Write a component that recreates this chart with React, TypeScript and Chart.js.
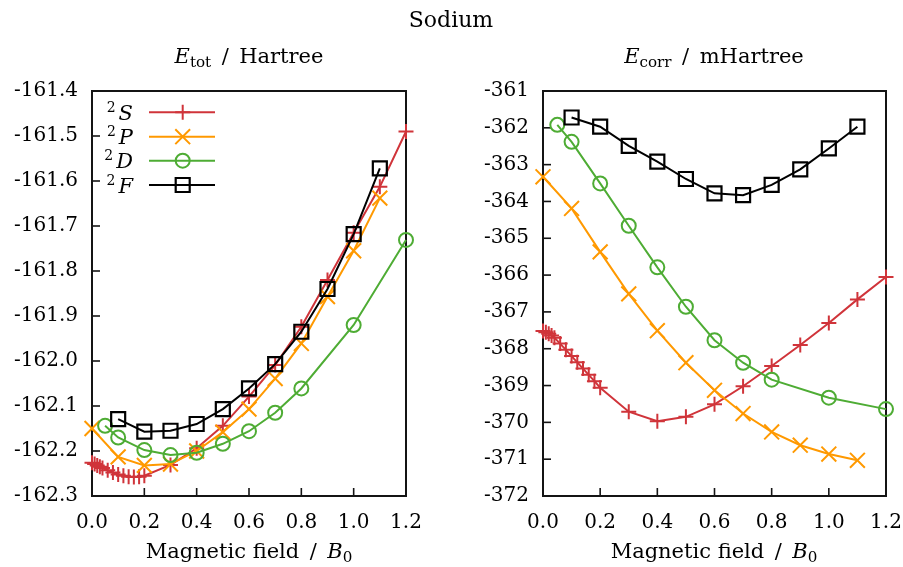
import React, { useEffect, useRef } from 'react';
import { Chart, registerables } from 'chart.js';

Chart.register(...registerables);

// ---------------- data ----------------
const xTicks = [0, 0.2, 0.4, 0.6, 0.8, 1.0, 1.2];

const xS = [0, 0.01, 0.02, 0.03, 0.04, 0.06, 0.08, 0.10, 0.12, 0.14, 0.16, 0.18, 0.20, 0.3, 0.4, 0.5, 0.6, 0.7, 0.8, 0.9, 1.0, 1.1, 1.2];
const xP = [0, 0.1, 0.2, 0.3, 0.4, 0.5, 0.6, 0.7, 0.8, 0.9, 1.0, 1.1];
const xD = [0.05, 0.1, 0.2, 0.3, 0.4, 0.5, 0.6, 0.7, 0.8, 1.0, 1.2];
const xF = [0.1, 0.2, 0.3, 0.4, 0.5, 0.6, 0.7, 0.8, 0.9, 1.0, 1.1];

// total energy / Hartree
const totS = [-162.226, -162.229, -162.232, -162.235, -162.238, -162.243, -162.248, -162.252, -162.255, -162.257, -162.258, -162.257, -162.255, -162.231, -162.194, -162.144, -162.079, -162.009, -161.924, -161.820, -161.715, -161.613, -161.490];
const totP = [-162.150, -162.213, -162.232, -162.229, -162.200, -162.158, -162.107, -162.039, -161.961, -161.857, -161.755, -161.638];
const totD = [-162.144, -162.170, -162.198, -162.209, -162.204, -162.184, -162.156, -162.115, -162.061, -161.920, -161.731];
const totF = [-162.129, -162.157, -162.155, -162.140, -162.107, -162.061, -162.007, -161.935, -161.840, -161.718, -161.572];

// correlation energy / mHartree
const corrS = [-367.52, -367.55, -367.59, -367.64, -367.70, -367.86, -368.03, -368.20, -368.37, -368.54, -368.71, -368.88, -369.06, -369.71, -369.97, -369.85, -369.51, -369.02, -368.47, -367.90, -367.30, -366.66, -366.05];
const corrP = [-363.33, -364.19, -365.37, -366.51, -367.51, -368.38, -369.13, -369.76, -370.26, -370.62, -370.86, -371.03];
const corrD = [-361.92, -362.38, -363.51, -364.66, -365.79, -366.86, -367.77, -368.38, -368.84, -369.33, -369.64];
const corrF = [-361.72, -361.97, -362.49, -362.92, -363.39, -363.78, -363.83, -363.55, -363.13, -362.56, -361.97];

const legendLetters = ['S', 'P', 'D', 'F'];

// ---------------- styles ----------------
const RED = 'rgb(208,52,58)';
const ORANGE = 'rgb(255,153,0)';
const GREEN = 'rgb(78,172,52)';
const BLACK = 'rgb(0,0,0)';
const FONT = '"DejaVu Serif", serif';

const seriesStyle = [
  { color: RED, pointStyle: 'cross', radius: 7.5, bw: 2 },
  { color: ORANGE, pointStyle: 'crossRot', radius: 10.5, bw: 2 },
  { color: GREEN, pointStyle: 'circle', radius: 7, bw: 2 },
  { color: BLACK, pointStyle: 'rect', radius: 9.9, bw: 2.2 },
];

function toPts(xs: number[], ys: number[]) {
  return xs.map((x, i) => ({ x, y: ys[i] }));
}

const framePlugin = {
  id: 'gpFrame',
  beforeDatasetsDraw(chart: any) {
    const { ctx, chartArea: a, scales } = chart;
    ctx.save();
    ctx.strokeStyle = '#141414';
    ctx.lineWidth = 1.6;
    scales.x.ticks.forEach((t: any) => {
      const px = scales.x.getPixelForValue(t.value);
      ctx.beginPath();
      ctx.moveTo(px, a.bottom);
      ctx.lineTo(px, a.bottom - 8);
      ctx.stroke();
    });
    scales.y.ticks.forEach((t: any) => {
      const py = scales.y.getPixelForValue(t.value);
      ctx.beginPath();
      ctx.moveTo(a.left, py);
      ctx.lineTo(a.left + 8, py);
      ctx.stroke();
    });
    ctx.lineWidth = 2;
    ctx.strokeRect(a.left, a.top, a.right - a.left, a.bottom - a.top);
    ctx.restore();
  },
};

function drawMarker(ctx: CanvasRenderingContext2D, style: string, x: number, y: number) {
  ctx.beginPath();
  if (style === 'cross') {
    ctx.moveTo(x - 7.5, y); ctx.lineTo(x + 7.5, y);
    ctx.moveTo(x, y - 7.5); ctx.lineTo(x, y + 7.5);
  } else if (style === 'crossRot') {
    const d = 7.4;
    ctx.moveTo(x - d, y - d); ctx.lineTo(x + d, y + d);
    ctx.moveTo(x - d, y + d); ctx.lineTo(x + d, y - d);
  } else if (style === 'circle') {
    ctx.arc(x, y, 7, 0, Math.PI * 2);
  } else {
    ctx.rect(x - 7, y - 7, 14, 14);
  }
  ctx.stroke();
}

const legendPlugin = {
  id: 'gpLegend',
  afterDraw(chart: any) {
    if (!chart.options.plugins.gpLegend?.show) return;
    const ctx = chart.ctx as CanvasRenderingContext2D;
    ctx.save();
    const rows = [112.3, 136.7, 160.7, 185];
    legendLetters.forEach((L, i) => {
      const y = rows[i];
      const st = seriesStyle[i];
      ctx.fillStyle = '#000';
      ctx.textAlign = 'right';
      ctx.textBaseline = 'alphabetic';
      ctx.font = `italic 21px ${FONT}`;
      ctx.fillText(L, 133, y + 7.5);
      const w = ctx.measureText(L).width;
      ctx.font = `14px ${FONT}`;
      ctx.fillText('2', 133 - w - 3, y - 0.5);
      ctx.strokeStyle = st.color;
      ctx.lineWidth = st.bw;
      ctx.beginPath();
      ctx.moveTo(149, y);
      ctx.lineTo(215, y);
      ctx.stroke();
      drawMarker(ctx, st.pointStyle, 182.7, y);
    });
    ctx.restore();
  },
};

function makeConfig(ys: number[][], yMin: number, yMax: number, yStep: number, yDec: number, padRight: number, showLegend: boolean): any {
  const xsList = [xS, xP, xD, xF];
  const datasets = ys.map((arr, i) => {
    const st = seriesStyle[i];
    return {
      label: legendLetters[i],
      data: toPts(xsList[i], arr),
      borderColor: st.color,
      borderWidth: 2,
      backgroundColor: 'rgba(0,0,0,0)',
      pointStyle: st.pointStyle,
      pointRadius: st.radius,
      pointHoverRadius: st.radius,
      pointBorderWidth: st.bw,
      pointBorderColor: st.color,
      pointBackgroundColor: 'rgba(0,0,0,0)',
      tension: 0,
      fill: false,
      clip: false,
      order: 3 - i,
    };
  });
  return {
    type: 'line',
    data: { datasets },
    options: {
      animation: false,
      responsive: false,
      devicePixelRatio: 1,
      events: [],
      layout: { padding: { top: 91, right: padRight, left: 0, bottom: 0 } },
      plugins: {
        legend: { display: false },
        tooltip: { enabled: false },
        title: { display: false },
        gpLegend: { show: showLegend },
      },
      scales: {
        x: {
          type: 'linear',
          min: 0,
          max: 1.2,
          afterBuildTicks: (scale: any) => {
            scale.ticks = xTicks.map((v) => ({ value: v }));
          },
          afterFit: (scale: any) => {
            scale.height = 71;
            scale.paddingLeft = 0;
            scale.paddingRight = 0;
          },
          grid: { display: false, drawTicks: false },
          border: { display: false },
          ticks: {
            autoSkip: false,
            maxRotation: 0,
            padding: 15,
            color: '#000',
            font: { family: FONT, size: 20 },
            callback: (v: any) => Number(v).toFixed(1),
          },
        },
        y: {
          type: 'linear',
          min: yMin,
          max: yMax,
          afterFit: (scale: any) => {
            scale.width = 92;
            scale.paddingTop = 0;
            scale.paddingBottom = 0;
          },
          grid: { display: false, drawTicks: false },
          border: { display: false },
          ticks: {
            autoSkip: false,
            stepSize: yStep,
            padding: 14,
            color: '#000',
            font: { family: FONT, size: 20 },
            callback: (v: any) => Number(v).toFixed(yDec),
          },
        },
      },
    },
    plugins: [framePlugin, legendPlugin],
  };
}

function Panel({ left, width, cfg }: { left: number; width: number; cfg: () => any }) {
  const ref = useRef<HTMLCanvasElement | null>(null);
  useEffect(() => {
    if (!ref.current) return;
    const chart = new Chart(ref.current, cfg());
    return () => chart.destroy();
  }, []);
  return (
    <canvas
      ref={ref}
      width={width}
      height={567}
      style={{ position: 'absolute', left, top: 0, width, height: 567 }}
    />
  );
}

const txt = (left: number, top: number, width: number, size: number, children: React.ReactNode) => (
  <div
    style={{
      position: 'absolute',
      left,
      top,
      width,
      textAlign: 'center',
      fontFamily: FONT,
      fontSize: size,
      lineHeight: '1',
      color: '#000',
      whiteSpace: 'nowrap',
    }}
  >
    {children}
  </div>
);

const sub = (s: string) => (
  <span style={{ fontSize: '72%', position: 'relative', top: '0.28em' }}>{s}</span>
);

const slash = <span style={{ margin: '0 0.5em' }}>/</span>;

export default function App() {
  return (
    <div style={{ position: 'absolute', left: 0, top: 0, width: 903, height: 567, background: '#fff', overflow: 'hidden' }}>
      <Panel left={0} width={450} cfg={() => makeConfig([totS, totP, totD, totF], -162.3, -161.4, 0.1, 1, 44, true)} />
      <Panel left={451} width={452} cfg={() => makeConfig([corrS, corrP, corrD, corrF], -372, -361, 1, 0, 17, false)} />
      {txt(351, 9, 200, 22, 'Sodium')}
      {txt(99, 46, 300, 21, <span><i>E</i>{sub('tot')}{slash}Hartree</span>)}
      {txt(564, 46, 300, 21, <span><i>E</i>{sub('corr')}{slash}mHartree</span>)}
      {txt(99, 541, 300, 21, <span>Magnetic field{slash}<i>B</i>{sub('0')}</span>)}
      {txt(564, 541, 300, 21, <span>Magnetic field{slash}<i>B</i>{sub('0')}</span>)}
    </div>
  );
}
